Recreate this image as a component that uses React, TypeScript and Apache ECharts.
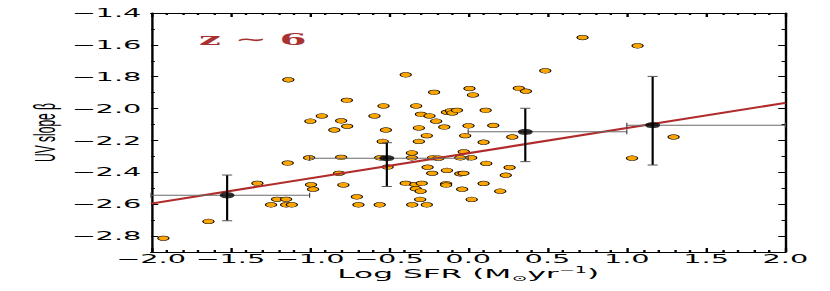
import React, { useEffect, useRef } from "react";
import * as echarts from "echarts";

// Individual galaxies: log SFR and UV slope beta
const sfrLog = [
  -1.922, -1.638, -1.329, -1.243, -1.205, -1.148, -1.148, -1.112, -1.138, -1.134,
  -1.003, -0.995, -0.991, -0.978, -0.923, -0.844, -0.814, -0.801, -0.801, -0.787,
  -0.765, -0.763, -0.702, -0.692, -0.591, -0.558, -0.555, -0.539, -0.534, -0.519,
  -0.508, -0.394, -0.394, -0.353, -0.355, -0.355, -0.334, -0.331, -0.328, -0.311,
  -0.311, -0.303, -0.3, -0.298, -0.293, -0.261, -0.261, -0.256, -0.244, -0.227,
  -0.221, -0.215, -0.202, -0.187, -0.151, -0.134, -0.11, -0.101, -0.071, -0.134,
  -0.139, -0.139, -0.05, -0.05, -0.03, -0.038, -0.028, -0.019, 0.002, 0.008,
  0.019, 0.022, 0.03, 0.097, 0.114, 0.097, 0.11, 0.158, 0.202, 0.237,
  0.261, 0.278, 0.319, 0.364, 0.486, 0.721, 1.033, 1.068, 1.295,
];
const uvBeta = [
  -2.814, -2.708, -2.469, -2.604, -2.569, -2.569, -2.604, -2.604, -2.342, -1.819,
  -2.309, -2.079, -2.478, -2.506, -2.046, -2.134, -2.406, -2.077, -2.306, -2.479,
  -1.948, -2.111, -2.554, -2.604, -2.046, -2.604, -2.309, -2.206, -1.983, -2.134,
  -2.367, -1.788, -2.469, -2.604, -2.278, -2.309, -2.477, -2.503, -1.983, -2.121,
  -2.206, -2.57, -2.518, -2.036, -2.469, -2.17, -2.604, -2.368, -2.046, -2.406,
  -2.308, -1.898, -2.079, -2.311, -2.116, -2.023, -2.013, -2.027, -2.011, -2.388,
  -2.471, -2.48, -2.309, -2.409, -2.406, -2.506, -2.271, -2.17, -2.108, -1.874,
  -2.309, -2.57, -1.914, -2.211, -2.344, -2.47, -2.011, -2.106, -2.518, -2.418,
  -2.37, -2.178, -1.873, -1.891, -1.763, -1.554, -2.311, -1.606, -2.178,
];

// Binned means with error bars
const binSfr = [-1.52, -0.513, 0.36, 1.163];
const binBeta = [-2.544, -2.311, -2.146, -2.104];
const binSfrLo = [-2.0, -1.0, 0.0, 1.0];
const binSfrHi = [-1.0, 0.0, 1.0, 2.0];
const binBetaLo = [-2.704, -2.489, -2.333, -2.354];
const binBetaHi = [-2.417, -2.214, -1.998, -1.798];

// Linear fit
const fitSfr = [-2.0, 2.0];
const fitBeta = [-2.596, -1.964];

// Axis ticks
const yMajor = [-2.8, -2.6, -2.4, -2.2, -2.0, -1.8, -1.6, -1.4];
const yMinor = [-2.9, -2.7, -2.5, -2.3, -2.1, -1.9, -1.7, -1.5];

const S = 2.4;
const W = 830 / S;
const H = 291;

const fmt = (v: number) => (v < 0 ? "\u2212" + Math.abs(v).toFixed(1) : v.toFixed(1));

const tickFont = { fontFamily: "DejaVu Sans", fontSize: 12, color: "#000" };
const blackLine = { color: "#000", width: 1 };

export default function App() {
  const ref = useRef<HTMLDivElement>(null);
  useEffect(() => {
    const chart = echarts.init(ref.current!, null, { renderer: "svg" });
    const yBase = { type: "value", min: -2.9, max: -1.4, splitLine: { show: false } };
    const xBase = { type: "value", min: -2, max: 2, interval: 0.5, splitLine: { show: false } };
    chart.setOption({
      animation: false,
      backgroundColor: "#fff",
      grid: { left: 151 / S, right: W - 785 / S, top: 13, bottom: 39 },
      xAxis: [
        {
          ...xBase,
          position: "bottom",
          axisLine: { show: true, onZero: false, lineStyle: blackLine },
          axisTick: { show: true, inside: true, length: 4, lineStyle: blackLine },
          minorTick: { show: true, splitNumber: 5, length: 2, lineStyle: blackLine },
          axisLabel: { ...tickFont, margin: 1, formatter: fmt },
          name: "{a|Log SFR (M}{b|\u2299}{a|yr}{c|\u22121}{a|)}",
          nameLocation: "middle",
          nameGap: 14,
          nameMoveOverlap: false,
          nameTextStyle: {
            fontFamily: "DejaVu Sans",
            fontSize: 13,
            color: "#000",
            rich: {
              a: { fontFamily: "DejaVu Sans", fontSize: 13, color: "#000", lineHeight: 16 },
              b: { fontFamily: "DejaVu Sans", fontSize: 8, color: "#000", verticalAlign: "bottom", lineHeight: 16 },
              c: { fontFamily: "DejaVu Sans", fontSize: 8, color: "#000", verticalAlign: "top", lineHeight: 16 },
            },
          },
        },
        {
          ...xBase,
          position: "top",
          axisLine: { show: true, onZero: false, lineStyle: blackLine },
          axisTick: { show: true, inside: true, length: 4, lineStyle: blackLine },
          minorTick: { show: true, splitNumber: 5, length: 2, lineStyle: blackLine },
          axisLabel: { show: false },
        },
      ],
      yAxis: [
        {
          ...yBase,
          position: "left",
          axisLine: { show: true, onZero: false, lineStyle: blackLine },
          axisTick: { show: true, inside: true, length: 3, customValues: yMajor, lineStyle: blackLine },
          axisLabel: { ...tickFont, margin: 4, customValues: yMajor, formatter: fmt },
          name: "UV slope \u03B2",
          nameLocation: "middle",
          nameRotate: 90,
          nameGap: 38,
          nameMoveOverlap: false,
          nameTextStyle: { fontFamily: "Liberation Sans", fontSize: 12, color: "#000" },
        },
        {
          ...yBase,
          position: "left",
          axisLine: { show: false, onZero: false },
          axisTick: { show: true, inside: true, length: 1.6, customValues: yMinor, lineStyle: blackLine },
          axisLabel: { show: false },
        },
        {
          ...yBase,
          position: "right",
          axisLine: { show: true, onZero: false, lineStyle: blackLine },
          axisTick: { show: true, inside: true, length: 3, customValues: yMajor, lineStyle: blackLine },
          axisLabel: { show: false },
        },
        {
          ...yBase,
          position: "right",
          axisLine: { show: false, onZero: false },
          axisTick: { show: true, inside: true, length: 1.6, customValues: yMinor, lineStyle: blackLine },
          axisLabel: { show: false },
        },
      ],
      graphic: [
        {
          type: "text",
          left: 199 / S,
          top: 31,
          style: { text: "z \u223C 6", fill: "#a83232", font: 'bold 16px "DejaVu Serif"' },
        },
      ],
      series: [
        {
          type: "scatter",
          xAxisIndex: 0,
          yAxisIndex: 0,
          data: sfrLog.map((x, i) => [x, uvBeta[i]]),
          symbol: "circle",
          symbolSize: 4.7,
          itemStyle: { color: "#FFA500", borderColor: "#000", borderWidth: 0.5, opacity: 1 },
          z: 2,
        },
        {
          type: "line",
          xAxisIndex: 0,
          yAxisIndex: 0,
          data: fitSfr.map((x, i) => [x, fitBeta[i]]),
          symbol: "none",
          lineStyle: { color: "#b02c2c", width: 2 },
          z: 3,
        },
        {
          type: "custom",
          xAxisIndex: 0,
          yAxisIndex: 0,
          data: binSfr.map((x, i) => [x, binBeta[i], binSfrLo[i], binSfrHi[i], binBetaLo[i], binBetaHi[i]]),
          renderItem: (params: any, api: any) => {
            const x = api.value(0);
            const y = api.value(1);
            const pL = api.coord([api.value(2), y]);
            const pR = api.coord([api.value(3), y]);
            const pT = api.coord([x, api.value(5)]);
            const pB = api.coord([x, api.value(4)]);
            const cw = 2.1;
            const ch = 2.5;
            return {
              type: "group",
              children: [
                { type: "line", shape: { x1: pL[0], y1: pL[1], x2: pR[0], y2: pR[1] }, style: { stroke: "#6a6a6a", lineWidth: 1 } },
                { type: "line", shape: { x1: pL[0], y1: pL[1] - ch, x2: pL[0], y2: pL[1] + ch }, style: { stroke: "#444", lineWidth: 0.5 } },
                { type: "line", shape: { x1: pR[0], y1: pR[1] - ch, x2: pR[0], y2: pR[1] + ch }, style: { stroke: "#444", lineWidth: 0.5 } },
                { type: "line", shape: { x1: pT[0], y1: pT[1], x2: pB[0], y2: pB[1] }, style: { stroke: "#000", lineWidth: 0.9 } },
                { type: "line", shape: { x1: pT[0] - cw, y1: pT[1], x2: pT[0] + cw, y2: pT[1] }, style: { stroke: "#555", lineWidth: 1 } },
                { type: "line", shape: { x1: pB[0] - cw, y1: pB[1], x2: pB[0] + cw, y2: pB[1] }, style: { stroke: "#555", lineWidth: 1 } },
              ],
            };
          },
          z: 4,
        },
        {
          type: "scatter",
          xAxisIndex: 0,
          yAxisIndex: 0,
          data: binSfr.map((x, i) => [x, binBeta[i]]),
          symbol: "circle",
          symbolSize: 6.2,
          itemStyle: { color: "#000" },
          z: 5,
        },
      ],
    });
    return () => chart.dispose();
  }, []);
  return (
    <div
      style={{
        position: "absolute",
        left: 0,
        top: 0,
        width: 830,
        height: 291,
        overflow: "hidden",
        background: "#fff",
      }}
    >
      <div
        ref={ref}
        style={{ width: W, height: H, transform: `scaleX(${S})`, transformOrigin: "0 0" }}
      />
    </div>
  );
}
